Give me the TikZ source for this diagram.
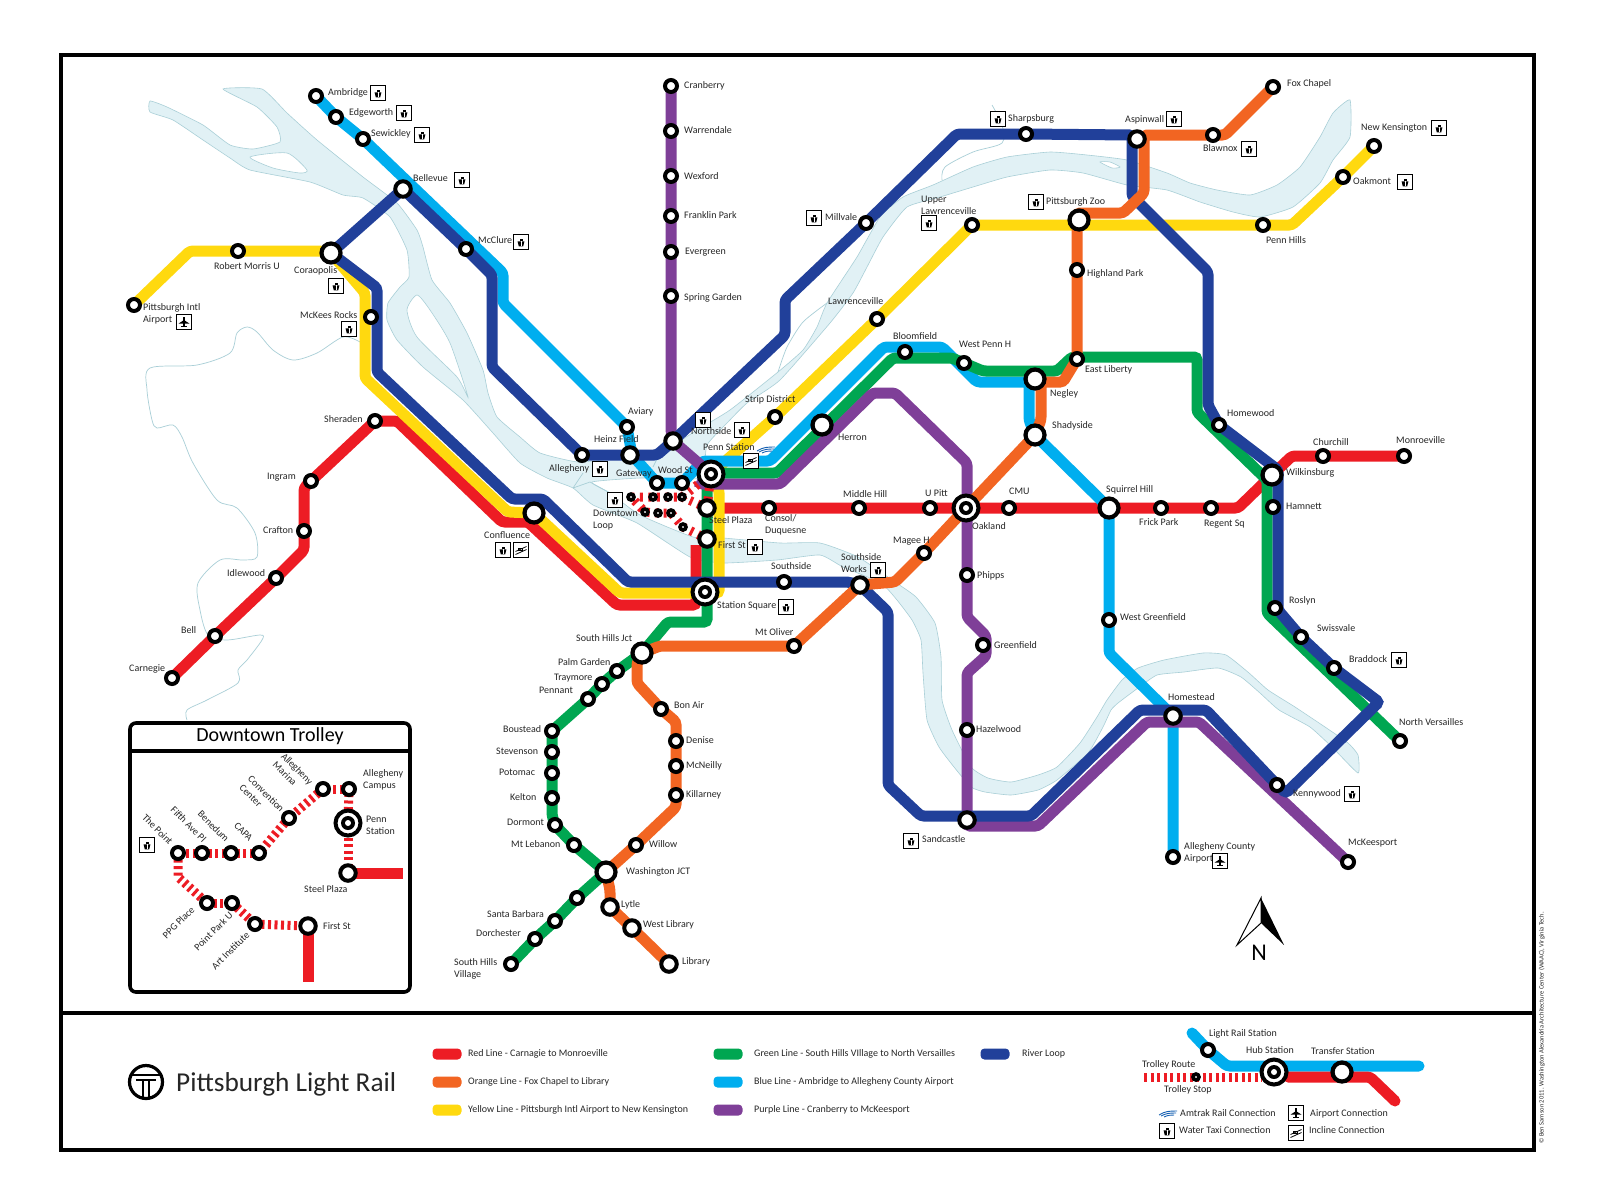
\documentclass[tikz,border=0pt]{standalone}
\usepackage{fontspec}
\setmainfont{Carlito}
\usetikzlibrary{backgrounds}
\definecolor{redl}{HTML}{ED1C24}
\definecolor{orangel}{HTML}{F26522}
\definecolor{yellowl}{HTML}{FFD90F}
\definecolor{greenl}{HTML}{00A651}
\definecolor{bluel}{HTML}{00AEEF}
\definecolor{purplel}{HTML}{7F3F98}
\definecolor{navyl}{HTML}{21409A}
\definecolor{riverfill}{HTML}{E1F1F5}
\definecolor{riveredge}{HTML}{A9CFD7}
\tikzset{
  stop/.style={circle,draw=black,fill=white,line width=4,minimum size=12,inner sep=0},
  midstop/.style={stop,line width=4,minimum size=15.5},
  xfer/.style={stop,line width=4.2,minimum size=19},
  tstop/.style={stop,line width=3.6,minimum size=6},
  hub/.style={stop,line width=4,minimum size=25,path picture={
    \fill[black] (path picture bounding box.center) circle (7);
    \fill[white] (path picture bounding box.center) circle (3);}},
  mlbl/.style={anchor=west,inner sep=0,align=left,text=black!85,font=\fontsize{10}{12}\selectfont},
  lbl/.style={mlbl,text height=7,text depth=2},
  rlbl/.style={lbl,anchor=center},
  mrlbl/.style={mlbl,anchor=center},
  leg/.style={lbl,font=\fontsize{10}{11}\selectfont},
  icon/.style={draw=black,fill=white,line width=1.3,minimum size=14.5,inner sep=0},
  taxi/.style={icon,path picture={
    \begin{scope}[shift={(path picture bounding box.center)}]
    \fill[black] (-3.4,-0.6) -- (3.4,-0.6) -- (2.2,4.4) -- (-2.2,4.4) -- cycle;
    \fill[black] (-1.5,-3.2) rectangle (1.5,-1.5);
    \fill[white] (-0.3,-0.6) rectangle (0.3,4.4);
    \end{scope}}},
  plane/.style={icon,path picture={
    \begin{scope}[shift={(path picture bounding box.center)}]
    \fill[black] (-0.8,-5) rectangle (0.8,5);
    \fill[black] (-5.5,1.6) -- (-0.8,-1.4) -- (0.8,-1.4) -- (5.5,1.6) -- cycle;
    \fill[black] (-2.6,4.8) rectangle (2.6,3.8);
    \end{scope}}},
  incline/.style={icon,path picture={
    \begin{scope}[shift={(path picture bounding box.center)}]
    \draw[line width=0.8] (-5.5,1.5) -- (5.5,-3.5);
    \draw[line width=0.8] (-5.5,4.5) -- (5.5,-0.5);
    \draw[line width=0.7] (-3,-2) rectangle (1,0.5);
    \end{scope}}},
  amtrak/.style={minimum width=20,minimum height=7,inner sep=0,path picture={
    \begin{scope}[shift={(path picture bounding box.center)},draw=navyl!70!bluel,line width=0.9]
    \draw (-9,1) .. controls (-3,-3) and (2,-3) .. (9,-3);
    \draw (-7,2) .. controls (-2,-1) and (3,-1) .. (8,-1);
    \draw (-4,3) .. controls (0,1) and (3,1) .. (6,1);
    \end{scope}}},
  line/.style={line width=11,rounded corners=3},
  trolley/.style={draw=redl,line width=9,dash pattern=on 3 off 5.5},
  fine/.style={trolley,dash pattern=on 3 off 3.5},
  river/.style={fill=riverfill,draw=riveredge,line width=0.6},
  creek/.style={draw=riveredge,line width=0.7},
  swatch/.style={rounded corners=4,minimum width=29,minimum height=11,inner sep=0}
}
\begin{document}
\begin{tikzpicture}[x=1pt,y=-1pt]
\useasboundingbox (0,0) rectangle (1600,1200);

% purple column and the north west
\node[stop] (cranberry) at (671,86) {};
\node[stop] (warrendale) at (671,131) {};
\node[stop] (wexford) at (671,176) {};
\node[stop] (franklin) at (671,216) {};
\node[stop] (evergreen) at (671,252) {};
\node[stop] (springgarden) at (671,296) {};
\node[midstop] (northside) at (673,441) {};
\node[stop] (ambridge) at (316,96) {};
\node[stop] (edgeworth) at (336,117) {};
\node[stop] (sewickley) at (363,139) {};
\node[midstop] (bellevue) at (403,189) {};
\node[stop] (mcclure) at (466,249) {};
\node[stop] (pghintl) at (134,305) {};
\node[stop] (robertmorris) at (238,251) {};
\node[xfer] (coraopolis) at (331,253) {};
\node[stop] (mckees) at (371,317) {};
\node[stop] (carnegie) at (172,678) {};
\node[stop] (bell) at (215,636) {};
\node[stop] (idlewood) at (276,578) {};
\node[stop] (crafton) at (304,531) {};
\node[stop] (ingram) at (311,481) {};
\node[stop] (sheraden) at (375,421) {};
\node[xfer] (confluence) at (534,513) {};

% downtown
\node[stop] (aviary) at (627,427) {};
\node[midstop] (heinz) at (630,455) {};
\node[stop] (allegheny) at (582,455) {};
\node[stop] (gateway) at (657,483) {};
\node[stop] (woodst) at (682,483) {};
\node[hub] (pennst) at (711,474) {};
\node[midstop] (steelplaza) at (707,508) {};
\node[midstop] (firstst) at (707,539) {};
\node[hub] (stationsq) at (705,592) {};
\node[tstop] (dta) at (631,497) {};
\node[tstop] (dtb) at (653,497) {};
\node[tstop] (dtc) at (668,497) {};
\node[tstop] (dtd) at (682,497) {};
\node[tstop] (dte) at (645,512) {};
\node[tstop] (dtf) at (658,513) {};
\node[tstop] (dtg) at (671,513) {};
\node[tstop] (dth) at (683,527) {};

% east
\node[stop] (strip) at (775,417) {};
\node[xfer] (herron) at (822,425) {};
\node[stop] (lawrenceville) at (877,319) {};
\node[stop] (upperlaw) at (972,225) {};
\node[xfer] (zoo) at (1079,220) {};
\node[stop] (pennhills) at (1263,225) {};
\node[stop] (oakmont) at (1343,177) {};
\node[stop] (newkens) at (1374,146) {};
\node[stop] (millvale) at (866,223) {};
\node[stop] (sharpsburg) at (1026,134) {};
\node[midstop] (aspinwall) at (1137,139) {};
\node[stop] (blawnox) at (1213,135) {};
\node[stop] (foxchapel) at (1273,87) {};
\node[stop] (highland) at (1077,270) {};
\node[stop] (eastliberty) at (1077,359) {};
\node[stop] (bloomfield) at (905,352) {};
\node[stop] (westpenn) at (964,363) {};
\node[xfer] (negley) at (1035,379) {};
\node[xfer] (shadyside) at (1035,435) {};
\node[stop] (homewood) at (1219,425) {};
\node[xfer] (wilkinsburg) at (1272,475) {};
\node[stop] (churchill) at (1323,456) {};
\node[stop] (monroeville) at (1404,456) {};
\node[stop] (hamnett) at (1273,507) {};
\node[stop] (roslyn) at (1275,608) {};
\node[stop] (swissvale) at (1301,637) {};
\node[stop] (braddock) at (1334,668) {};
\node[stop] (nversailles) at (1400,741) {};
\node[stop] (consol) at (769,508) {};
\node[stop] (middlehill) at (859,508) {};
\node[stop] (upitt) at (930,508) {};
\node[hub] (oakland) at (966,508) {};
\node[stop] (cmu) at (1009,508) {};
\node[xfer] (squirrel) at (1109,508) {};
\node[stop] (frick) at (1161,508) {};
\node[stop] (regent) at (1211,508) {};
\node[stop] (westgreen) at (1109,620) {};
\node[midstop] (homestead) at (1173,716) {};
\node[stop] (alleghair) at (1173,857) {};
\node[stop] (kennywood) at (1277,785) {};
\node[stop] (mckeesport) at (1348,862) {};
\node[stop] (phipps) at (967,575) {};
\node[stop] (greenfield) at (983,645) {};
\node[stop] (hazelwood) at (967,730) {};
\node[midstop] (sandcastle) at (967,820) {};
\node[stop] (magee) at (924,553) {};
\node[stop] (southside) at (784,582) {};
\node[midstop] (swworks) at (860,585) {};

% south
\node[stop] (mtoliver) at (794,646) {};
\node[xfer] (shjct) at (642,653) {};
\node[stop] (palmgarden) at (617,671) {};
\node[stop] (traymore) at (602,684) {};
\node[stop] (pennant) at (588,699) {};
\node[stop] (boustead) at (552,731) {};
\node[stop] (stevenson) at (552,752) {};
\node[stop] (potomac) at (552,773) {};
\node[stop] (kelton) at (552,798) {};
\node[stop] (dormont) at (555,825) {};
\node[stop] (mtlebanon) at (574,845) {};
\node[xfer] (washjct) at (606,872) {};
\node[stop] (unnamed) at (577,898) {};
\node[stop] (santabarbara) at (555,921) {};
\node[stop] (dorchester) at (535,939) {};
\node[stop] (shvillage) at (511,964) {};
\node[stop] (bonair) at (661,709) {};
\node[stop] (denise) at (676,741) {};
\node[stop] (mcneilly) at (676,766) {};
\node[stop] (killarney) at (676,795) {};
\node[stop] (willow) at (636,845) {};
\node[midstop] (lytle) at (610,907) {};
\node[midstop] (westlib) at (632,928) {};
\node[midstop] (library) at (669,964) {};

\begin{scope}[on background layer]
\fill[white] (0,0) rectangle (1600,1200);
\filldraw[river] plot[smooth cycle,tension=0.3] coordinates {(223,89) (262,89) (287,113) (317,140) (363,177) (397,203) (417,230) (423,247) (432,280) (450,303) (467,333) (483,370) (488,393) (497,417) (520,437) (540,453) (578,462) (620,458) (660,453) (697,430) (730,410) (778,372) (803,350) (817,327) (827,303) (857,257) (880,217) (903,197) (933,185) (973,167) (1007,157) (1050,152) (1087,155) (1127,160) (1167,173) (1190,183) (1217,190) (1250,195) (1277,185) (1300,167) (1320,137) (1333,113) (1350,100) (1350,137) (1333,160) (1320,183) (1293,207) (1260,217) (1233,212) (1200,202) (1167,190) (1127,185) (1083,173) (1050,170) (1007,177) (973,187) (940,197) (907,207) (883,237) (867,267) (853,293) (830,323) (780,380) (747,403) (727,423) (707,445) (700,478) (640,478) (592,482) (610,493) (640,515) (693,537) (723,538) (780,543) (820,543) (858,557) (895,582) (916,597) (935,623) (941,657) (942,700) (952,730) (971,767) (988,778) (1011,782) (1038,775) (1057,767) (1080,743) (1097,717) (1107,700) (1122,680) (1138,668) (1164,660) (1203,653) (1226,655) (1249,673) (1268,690) (1295,707) (1325,727) (1348,743) (1358,755) (1358,773) (1333,748) (1310,727) (1279,710) (1260,693) (1241,677) (1218,668) (1184,672) (1157,675) (1138,688) (1118,703) (1111,710) (1103,727) (1088,753) (1057,780) (1038,790) (1011,795) (985,792) (971,787) (954,767) (939,747) (927,720) (923,673) (921,640) (912,620) (897,600) (881,583) (843,567) (820,555) (777,560) (723,563) (690,557) (637,523) (593,505) (573,488) (547,478) (520,463) (493,433) (463,400) (423,367) (397,340) (387,320) (388,303) (400,287) (409,277) (407,250) (390,217) (363,198) (343,195) (310,182) (250,170) (230,158) (203,140) (173,120) (150,112) (150,101) (167,107) (203,125) (230,145) (253,149) (280,142) (277,127) (257,107)};
\filldraw[fill=white,draw=riveredge,line width=0.6] plot[smooth cycle,tension=0.4] coordinates {(250,157) (287,153) (307,170) (300,173) (273,168)};
\filldraw[fill=white,draw=riveredge,line width=0.6] plot[smooth cycle,tension=0.4] coordinates {(407,310) (417,295) (430,310) (450,343) (468,397) (457,377) (417,337)};
\filldraw[fill=white,draw=riveredge,line width=0.6] plot[smooth cycle,tension=0.4] coordinates {(1100,162) (1110,162) (1120,167) (1112,168)};
\draw[creek] plot[smooth,tension=0.4] coordinates {(778,372) (787,347) (803,322) (827,303)};
\draw[creek] plot[smooth,tension=0.5] coordinates {(942,180) (945,167) (973,152) (1002,143) (1002,125) (992,105)};
\draw[creek] (573,488) -- (583,473);
\draw[creek] (573,488) -- (590,482) -- (610,493);
\draw[creek] (663,447) -- (653,467);
\draw[creek] plot[smooth,tension=0.5] coordinates {(360,342) (343,337) (317,353) (293,360) (273,350) (257,332) (247,327) (237,333) (230,353) (197,365) (150,368) (147,390) (152,420) (157,428) (173,425) (182,437) (193,463) (217,500) (237,508) (255,533) (257,557) (243,560) (220,560) (198,583) (200,610) (208,635) (227,640) (260,635) (262,640) (247,660) (238,670) (238,683) (207,700) (187,710) (187,720)};

\draw[line,redl] (carnegie.center) -- (bell.center) -- (idlewood.center) -- (304,550) -- (crafton.center) -- (304,488) -- (ingram.center) -- (sheraden.center) -- (397,421) -- (502,522) -- (528,522) -- (617,605) -- (696,605) -- (696,545);
\draw[line,redl] (steelplaza.center) -- (consol.center) -- (middlehill.center) -- (upitt.center) -- (oakland.center) -- (cmu.center) -- (squirrel.center) -- (frick.center) -- (regent.center) -- (1238,508) -- (wilkinsburg.center) -- (1292,456) -- (churchill.center) -- (monroeville.center);
\draw[line,yellowl] (pghintl.center) -- (190,251) -- (robertmorris.center) -- (320,251) -- (coraopolis.center) -- (365,293) -- (365,378) -- (508,512) -- (confluence.center) -- (620,593) -- (719,593) -- (719,490) -- (pennst.center) -- (strip.center) -- (lawrenceville.center) -- (upperlaw.center) -- (pennhills.center) -- (1292,225) -- (oakmont.center) -- (newkens.center);
\draw[line,bluel] (ambridge.center) -- (edgeworth.center) -- (sewickley.center) -- (503,273) -- (503,303) -- (aviary.center) -- (632,455) -- (gateway.center) -- (woodst.center) -- (703,461) -- (770,461) -- (884,347) -- (942,347) -- (977,382) -- (1029,382) -- (1029,420) -- (shadyside.center) -- (squirrel.center) -- (westgreen.center) -- (1109,653) -- (homestead.center) -- (alleghair.center);
\draw[line,greenl] (shvillage.center) -- (dorchester.center) -- (santabarbara.center) -- (unnamed.center) -- (washjct.center) -- (mtlebanon.center) -- (dormont.center) -- (552,815) -- (kelton.center) -- (potomac.center) -- (stevenson.center) -- (boustead.center) -- (pennant.center) -- (traymore.center) -- (palmgarden.center) -- (shjct.center) -- (668,622) -- (707,622) -- (707,473) -- (777,473) -- (893,358) -- (952,358) -- (983,371) -- (1057,371) -- (1072,357) -- (1197,357) -- (1197,412) -- (1267,480) -- (1267,613) -- (nversailles.center);
\draw[line,purplel] (cranberry.center) -- (warrendale.center) -- (wexford.center) -- (franklin.center) -- (evergreen.center) -- (springgarden.center) -- (671,431) -- (northside.center) -- (pennst.center) -- (700,484) -- (780,484) -- (873,393) -- (895,393) -- (967,463) -- (phipps.center) -- (967,617) -- (986,636) -- (986,656) -- (967,673) -- (hazelwood.center) -- (967,826) -- (1038,826) -- (1147,722) -- (1199,722) -- (mckeesport.center);
\draw[line,navyl] (bellevue.center) -- (coraopolis.center) -- (377,288) -- (377,372) -- (512,499) -- (543,499) -- (628,582) -- (southside.center) -- (848,582) -- (swworks.center) -- (888,612) -- (888,785) -- (921,816) -- (1031,816) -- (1140,710) -- (1206,710) -- (kennywood.center) -- (1286,793) -- (1379,702) -- (braddock.center) -- (swissvale.center) -- (1278,610) -- (1278,470) -- (homewood.center) -- (1208,405) -- (1208,272) -- (1132,196) -- (1132,135) -- (sharpsburg.center) -- (957,134) -- (millvale.center) -- (785,300) -- (785,335) -- (northside.center) -- (657,455) -- (heinz.center) -- (allegheny.center) -- (492,367) -- (492,275) -- (mcclure.center) -- cycle;
\draw[line,orangel] (foxchapel.center) -- (1225,135) -- (1144,135) -- (1144,193) -- (1123,213) -- (1077,213) -- (highland.center) -- (eastliberty.center) -- (1063,382) -- (1041,382) -- (1041,420) -- (shadyside.center) -- (oakland.center) -- (magee.center) -- (895,582) -- (swworks.center) -- (mtoliver.center) -- (660,646) -- (shjct.center) -- (637,663) -- (637,683) -- (bonair.center) -- (676,722) -- (denise.center) -- (mcneilly.center) -- (killarney.center) -- (676,807) -- (willow.center) -- (washjct.center) -- (610,890) -- (lytle.center) -- (westlib.center) -- (library.center);
\draw[trolley] (steelplaza.center) -- (pennst.center) -- (dtd.center) -- (dtc.center) -- (dtb.center) -- (dta.center) -- (dte.center) -- (dtf.center) -- (dtg.center) -- (dth.center) -- (firstst.center);
\draw[trolley] (dtd.center) -- (steelplaza.center);
\end{scope}

% labels on the map
\node[lbl] (cranberryT) at (684,86) {Cranberry};
\node[lbl] (warrendaleT) at (684,131) {Warrendale};
\node[lbl] (wexfordT) at (684,177) {Wexford};
\node[lbl] (franklinT) at (684,216) {Franklin Park};
\node[lbl] (evergreenT) at (685,252) {Evergreen};
\node[lbl] (springgardenT) at (684,298) {Spring Garden};
\node[lbl] (millvaleT) at (825,218) {Millvale};
\node[taxi] (millvaleI) at (814,218) {};
\node[lbl] (sharpsburgT) at (1008,119) {Sharpsburg};
\node[taxi] (sharpsburgI) at (998,119) {};
\node[mlbl] (upperlawT) at (921,205) {Upper\\Lawrenceville};
\node[taxi] (upperlawI) at (929,223) {};
\node[lbl] (zooT) at (1046,202) {Pittsburgh Zoo};
\node[taxi] (zooI) at (1036,202) {};
\node[lbl] (lawrencevilleT) at (828,302) {Lawrenceville};
\node[lbl] (bloomfieldT) at (893,337) {Bloomfield};
\node[lbl] (westpennT) at (959,345) {West Penn H};
\node[lbl] (stripT) at (745,400) {Strip District};
\node[lbl] (northsideT) at (691,432) {Northside};
\node[taxi] (northsideI) at (703,420) {};
\node[taxi] (northsideJ) at (742,430) {};
\node[lbl] (pennstT) at (703,448) {Penn Station};
\node[amtrak] (pennstI) at (766,450) {};
\node[incline] (pennstJ) at (751,461) {};
\node[lbl] (herronT) at (838,438) {Herron};
\node[lbl] (negleyT) at (1050,394) {Negley};
\node[lbl] (shadysideT) at (1052,426) {Shadyside};
\node[lbl] (foxchapelT) at (1287,84) {Fox Chapel};
\node[lbl] (aspinwallT) at (1125,120) {Aspinwall};
\node[taxi] (aspinwallI) at (1174,119) {};
\node[lbl] (blawnoxT) at (1203,149) {Blawnox};
\node[taxi] (blawnoxI) at (1249,149) {};
\node[lbl] (newkensT) at (1361,128) {New Kensington};
\node[taxi] (newkensI) at (1439,128) {};
\node[lbl] (oakmontT) at (1353,182) {Oakmont};
\node[taxi] (oakmontI) at (1405,182) {};
\node[lbl] (pennhillsT) at (1266,241) {Penn Hills};
\node[lbl] (highlandT) at (1087,274) {Highland Park};
\node[lbl] (eastlibertyT) at (1085,370) {East Liberty};
\node[lbl] (homewoodT) at (1227,414) {Homewood};
\node[lbl] (churchillT) at (1313,443) {Churchill};
\node[lbl] (monroevilleT) at (1396,441) {Monroeville};
\node[lbl] (wilkinsburgT) at (1286,473) {Wilkinsburg};
\node[lbl] (squirrelT) at (1106,490) {Squirrel Hill};
\node[lbl] (cmuT) at (1009,492) {CMU};
\node[lbl] (frickT) at (1139,523) {Frick Park};
\node[lbl] (regentT) at (1204,524) {Regent Sq};
\node[lbl] (hamnettT) at (1286,507) {Hamnett};
\node[lbl] (roslynT) at (1289,601) {Roslyn};
\node[lbl] (swissvaleT) at (1317,629) {Swissvale};
\node[lbl] (westgreenT) at (1120,618) {West Greenfield};
\node[lbl] (braddockT) at (1349,660) {Braddock};
\node[taxi] (braddockI) at (1399,660) {};
\node[lbl] (nversaillesT) at (1399,723) {North Versailles};
\node[lbl] (homesteadT) at (1168,698) {Homestead};
\node[lbl] (kennywoodT) at (1293,794) {Kennywood};
\node[taxi] (kennywoodI) at (1352,794) {};
\node[lbl] (hazelwoodT) at (976,730) {Hazelwood};
\node[lbl] (greenfieldT) at (994,646) {Greenfield};
\node[lbl] (phippsT) at (977,576) {Phipps};
\node[lbl] (sandcastleT) at (922,840) {Sandcastle};
\node[taxi] (sandcastleI) at (911,841) {};
\node[mlbl] (alleghairT) at (1184,853) {Allegheny County\\Airport};
\node[plane] (alleghairI) at (1220,861) {};
\node[lbl] (mckeesportT) at (1348,843) {McKeesport};
\node[mlbl] (swworksT) at (841,563) {Southside\\Works};
\node[taxi] (swworksI) at (878,570) {};
\node[lbl] (mageeT) at (893,541) {Magee H};
\node[lbl] (aviaryT) at (628,412) {Aviary};
\node[lbl] (heinzT) at (594,440) {Heinz Field};
\node[lbl] (gatewayT) at (616,474) {Gateway};
\node[lbl] (woodstT) at (658,471) {Wood St};
\node[lbl] (steelplazaT) at (709,521) {Steel Plaza};
\node[mlbl] (consolT) at (765,525) {Consol/\\Duquesne};
\node[lbl] (firststT) at (718,546) {First St};
\node[taxi] (firststI) at (755,547) {};
\node[lbl] (southsideT) at (771,567) {Southside};
\node[lbl] (stationsqT) at (717,606) {Station Square};
\node[taxi] (stationsqI) at (786,607) {};
\node[lbl] (alleghenyT) at (549,469) {Allegheny};
\node[taxi] (alleghenyI) at (600,469) {};
\node[mlbl] (loopT) at (593,520) {Downtown\\Loop};
\node[taxi] (loopI) at (615,500) {};
\node[lbl] (middlehillT) at (843,495) {Middle Hill};
\node[lbl] (upittT) at (925,494) {U Pitt};
\node[lbl] (oaklandT) at (972,527) {Oakland};
\node[lbl] (ambridgeT) at (328,93) {Ambridge};
\node[taxi] (ambridgeI) at (378,93) {};
\node[lbl] (edgeworthT) at (349,113) {Edgeworth};
\node[taxi] (edgeworthI) at (404,113) {};
\node[lbl] (sewickleyT) at (371,134) {Sewickley};
\node[taxi] (sewickleyI) at (422,135) {};
\node[lbl] (bellevueT) at (413,179) {Bellevue};
\node[taxi] (bellevueI) at (462,180) {};
\node[lbl] (mcclureT) at (478,241) {McClure};
\node[taxi] (mcclureI) at (521,242) {};
\node[lbl] (robertmorrisT) at (214,267) {Robert Morris U};
\node[lbl] (coraopolisT) at (294,271) {Coraopolis};
\node[taxi] (coraopolisI) at (336,286) {};
\node[mlbl] (pghintlT) at (143,314) {Pittsburgh Intl\\Airport};
\node[plane] (pghintlI) at (184,322) {};
\node[lbl] (mckeesT) at (300,316) {McKees Rocks};
\node[taxi] (mckeesI) at (349,329) {};
\node[lbl] (sheradenT) at (324,420) {Sheraden};
\node[lbl] (ingramT) at (267,477) {Ingram};
\node[lbl] (craftonT) at (263,531) {Crafton};
\node[lbl] (idlewoodT) at (227,574) {Idlewood};
\node[lbl] (bellT) at (181,631) {Bell};
\node[lbl] (carnegieT) at (129,669) {Carnegie};
\node[lbl] (confluenceT) at (484,536) {Confluence};
\node[taxi] (confluenceI) at (503,550) {};
\node[incline] (confluenceJ) at (521,550) {};
\node[lbl] (shjctT) at (576,639) {South Hills Jct};
\node[lbl] (palmgardenT) at (558,663) {Palm Garden};
\node[lbl] (traymoreT) at (554,678) {Traymore};
\node[lbl] (pennantT) at (539,691) {Pennant};
\node[lbl] (bousteadT) at (503,730) {Boustead};
\node[lbl] (stevensonT) at (496,752) {Stevenson};
\node[lbl] (potomacT) at (499,773) {Potomac};
\node[lbl] (keltonT) at (510,798) {Kelton};
\node[lbl] (dormontT) at (507,823) {Dormont};
\node[lbl] (mtlebanonT) at (511,845) {Mt Lebanon};
\node[lbl] (washjctT) at (626,872) {Washington JCT};
\node[lbl] (willowT) at (649,845) {Willow};
\node[lbl] (lytleT) at (621,905) {Lytle};
\node[lbl] (westlibT) at (643,925) {West Library};
\node[lbl] (libraryT) at (682,962) {Library};
\node[lbl] (bonairT) at (674,706) {Bon Air};
\node[lbl] (deniseT) at (686,741) {Denise};
\node[lbl] (mcneillyT) at (686,766) {McNeilly};
\node[lbl] (killarneyT) at (686,795) {Killarney};
\node[lbl] (mtoliverT) at (755,633) {Mt Oliver};
\node[lbl] (santabarbaraT) at (487,915) {Santa Barbara};
\node[lbl] (dorchesterT) at (476,934) {Dorchester};
\node[mlbl] (shvillageT) at (454,969) {South Hills\\Village};

% north arrow
\draw[line width=1,fill=white] (1261,898) -- (1237,945) -- (1261,923) -- cycle;
\fill[black] (1261,898) -- (1284,945) -- (1261,923) -- cycle;
\node[anchor=center,inner sep=0,font=\fontsize{24}{24}\selectfont] (northN) at (1259,953) {N};

% inset
\node[stop] (the) at (178,853) {};
\node[stop] (fifth) at (202,853) {};
\node[stop] (benedum) at (231,853) {};
\node[stop] (capa) at (259,853) {};
\node[stop] (convention) at (289,818) {};
\node[stop] (marina) at (323,789) {};
\node[stop] (campus) at (349,789) {};
\node[hub] (ipenn) at (348,823) {};
\node[midstop] (isteel) at (348,873) {};
\node[coordinate] (isteelend) at (403,873) {};
\node[midstop] (ifirst) at (308,926) {};
\node[coordinate] (ifirstend) at (308,982) {};
\node[stop] (art) at (255,924) {};
\node[stop] (pointpark) at (232,903) {};
\node[stop] (ppg) at (207,903) {};
\begin{scope}[on background layer]
\draw[line width=3.6,fill=white,rounded corners=6] (130,723) rectangle (410,992);
\draw[line width=3.6] (130,751) -- (410,751);
\draw[line,redl] (isteel.center) -- (isteelend);
\draw[line,redl] (ifirst.center) -- (ifirstend);
\draw[fine] (isteel.center) -- (ipenn.center);
\draw[fine] (ipenn.center) -- (campus.center);
\draw[fine] (campus.center) -- (marina.center);
\draw[fine] (marina.center) -- (convention.center);
\draw[fine] (convention.center) -- (capa.center);
\draw[fine] (capa.center) -- (benedum.center);
\draw[fine] (benedum.center) -- (fifth.center);
\draw[fine] (fifth.center) -- (the.center);
\draw[fine] (the.center) -- (178,877) -- (ppg.center);
\draw[fine] (ppg.center) -- (pointpark.center);
\draw[fine] (pointpark.center) -- (art.center);
\draw[fine] (art.center) -- (ifirst.center);
\end{scope}
\node[anchor=center,inner sep=0,font=\fontsize{20}{22}\selectfont] (insetT) at (270,736) {Downtown Trolley};
\node[taxi] (theI) at (147,845) {};
\node[rlbl,rotate=-45] (theT) at (157,830) {The Point};
\node[rlbl,rotate=-45] (fifthT) at (188,825) {Fifth Ave Pl};
\node[rlbl,rotate=-45] (benedumT) at (213,827) {Benedum};
\node[rlbl,rotate=-45] (capaT) at (243,832) {CAPA};
\node[mrlbl,rotate=-45] (conventionT) at (262,798) {Convention\\Center};
\node[mrlbl,rotate=-45] (marinaT) at (293,773) {Allegheny\\Marina};
\node[rlbl,rotate=45] (ppgT) at (179,923) {PPG Place};
\node[rlbl,rotate=45] (pointparkT) at (214,932) {Point Park U};
\node[rlbl,rotate=45] (artT) at (231,951) {Art Institute};
\node[mlbl] (campusT) at (363,780) {Allegheny\\Campus};
\node[mlbl] (ipennT) at (366,825) {Penn\\Station};
\node[lbl] (isteelT) at (304,890) {Steel Plaza};
\node[lbl] (ifirstT) at (323,927) {First St};

% frame
\draw[line width=4] (61,55) rectangle (1534,1150);
\draw[line width=4] (61,1013) -- (1534,1013);

% logo
\node[circle,draw=black,line width=3.2,minimum size=33,inner sep=0] (logo) at (146,1082) {};
\draw[line width=1.8] (132,1075) -- (160,1075);
\draw[line width=1.8] (136,1080) -- (156,1080);
\draw[line width=1.8] (143,1080) -- (143,1098);
\draw[line width=1.8] (149,1080) -- (149,1098);
\node[mlbl,font=\fontsize{27.3}{30}\selectfont] (logoT) at (176,1084) {Pittsburgh Light Rail};

% legend
\node[swatch,fill=redl] (swred) at (447,1054) {};
\node[leg] (swredT) at (468,1054) {Red Line - Carnagie to Monroeville};
\node[swatch,fill=orangel] (sworange) at (447,1082) {};
\node[leg] (sworangeT) at (468,1082) {Orange Line - Fox Chapel to Library};
\node[swatch,fill=yellowl] (swyellow) at (447,1110) {};
\node[leg] (swyellowT) at (468,1110) {Yellow Line - Pittsburgh Intl Airport to New Kensington};
\node[swatch,fill=greenl] (swgreen) at (728,1054) {};
\node[leg] (swgreenT) at (754,1054) {Green Line - South Hills VIllage to North Versailles};
\node[swatch,fill=bluel] (swblue) at (728,1082) {};
\node[leg] (swblueT) at (754,1082) {Blue Line - Ambridge to Allegheny County Airport};
\node[swatch,fill=purplel] (swpurple) at (728,1110) {};
\node[leg] (swpurpleT) at (754,1110) {Purple Line - Cranberry to McKeesport};
\node[swatch,fill=navyl] (swnavy) at (995,1054) {};
\node[leg] (swnavyT) at (1022,1054) {River Loop};

\node[stop] (keylight) at (1208,1050) {};
\node[hub] (keyhub) at (1274,1072) {};
\node[xfer] (keyxfer) at (1342,1072) {};
\node[tstop] (keytrolley) at (1196,1077) {};
\node[coordinate] (keya) at (1192,1033) {};
\node[coordinate] (keyb) at (1419,1066) {};
\node[coordinate] (keyc) at (1395,1101) {};
\node[coordinate] (keyd) at (1144,1077) {};
\node[coordinate] (keye) at (1262,1077) {};
\node[coordinate] (keyf) at (1288,1077) {};
\begin{scope}[on background layer]
\draw[line,bluel,line cap=round] (keya) -- (keylight.center) -- (1227,1066) -- (keyb);
\draw[line,redl,line cap=round] (keyf) -- (1370,1077) -- (keyc);
\draw[fine] (keyd) -- (keye);
\end{scope}
\node[lbl] (keylightT) at (1209,1034) {Light Rail Station};
\node[lbl] (keyhubT) at (1246,1051) {Hub Station};
\node[lbl] (keyxferT) at (1311,1052) {Transfer Station};
\node[lbl] (keyrouteT) at (1142,1065) {Trolley Route};
\node[lbl] (keytrolleyT) at (1164,1090) {Trolley Stop};
\node[amtrak] (keyamtrak) at (1168,1114) {};
\node[lbl] (keyamtrakT) at (1180,1114) {Amtrak Rail Connection};
\node[taxi] (keytaxi) at (1167,1131) {};
\node[lbl] (keytaxiT) at (1179,1131) {Water Taxi Connection};
\node[plane] (keyplane) at (1296,1113) {};
\node[lbl] (keyplaneT) at (1310,1114) {Airport Connection};
\node[incline] (keyincline) at (1296,1133) {};
\node[lbl] (keyinclineT) at (1309,1131) {Incline Connection};
\node[rlbl,rotate=90,font=\fontsize{6.5}{7}\selectfont] (credit) at (1541,1028) {© Ben Samson 2011. Washington Alexandria Architecture Center (WAAC), Virginia Tech.};
\end{tikzpicture}
\end{document}
